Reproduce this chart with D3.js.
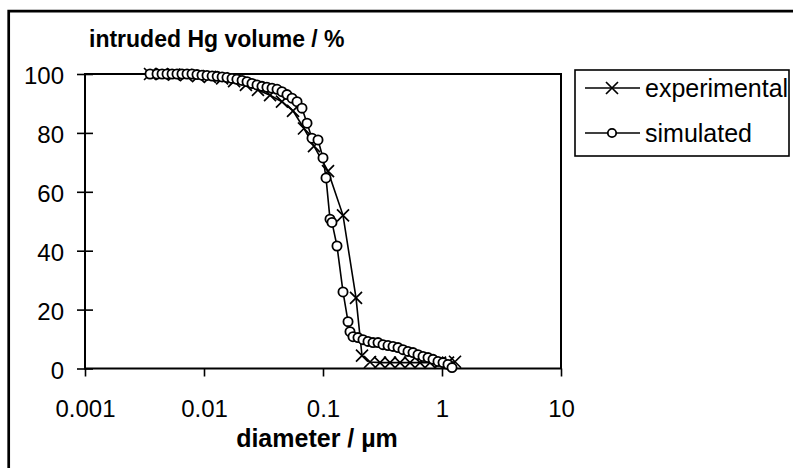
<!DOCTYPE html>
<html>
<head>
<meta charset="utf-8">
<script src="https://cdn.jsdelivr.net/npm/d3@7"></script>
<style>
  html, body { margin: 0; padding: 0; background: #fff; }
  text { font-family: "Liberation Sans", Arial, sans-serif; fill: #000; }
</style>
</head>
<body>
<svg id="chart" width="793" height="468"></svg>
<script>
// ---- data (diameter in µm, intruded Hg volume in %) ----
const expDiameter = [0.00352, 0.00444, 0.00560, 0.00706, 0.00891, 0.0112, 0.0142, 0.0179, 0.0225, 0.0284,
  0.0359, 0.0452, 0.0560, 0.0692, 0.0840, 0.1102, 0.1473, 0.1894, 0.2127, 0.2483,
  0.3013, 0.3656, 0.4437, 0.5384, 0.6535, 0.7930, 0.9620, 1.123, 1.286];
const expVolume = [100, 100, 99.8, 99.6, 99.3, 99.0, 98.5, 97.6, 96.3, 94.6,
  92.8, 90.6, 87.5, 81.5, 75.5, 67.0, 52.0, 24.0, 4.4, 2.2,
  2.0, 2.0, 2.0, 2.0, 2.0, 2.0, 2.0, 2.0, 2.3];

const simDiameter = [0.00352, 0.00403, 0.00444, 0.00489, 0.00539, 0.00593, 0.00653, 0.00720, 0.00793, 0.00873,
  0.00962, 0.0106, 0.0117, 0.0129, 0.0142, 0.0156, 0.0172, 0.0189, 0.0209, 0.0230,
  0.0253, 0.0279, 0.0307, 0.0338, 0.0373, 0.0411, 0.0452, 0.0498, 0.0549, 0.0605,
  0.0666, 0.0734, 0.0808, 0.0908, 0.100, 0.1060, 0.1145, 0.1190, 0.1311, 0.1473,
  0.1623, 0.1686, 0.1787, 0.1968, 0.2168, 0.2389, 0.2632, 0.2899, 0.3193, 0.3518,
  0.3874, 0.4269, 0.4702, 0.5180, 0.5706, 0.6287, 0.6925, 0.7630, 0.8403, 0.9256,
  1.020, 1.123, 1.214];
const simVolume = [100, 100, 100, 100, 100, 100, 100, 100, 100, 99.8,
  99.6, 99.5, 99.3, 99.2, 99.0, 98.8, 98.5, 98.2, 97.8, 97.4,
  96.8, 96.3, 95.8, 95.5, 95.2, 94.8, 94.0, 93.0, 91.8, 90.6,
  88.4, 83.3, 78.2, 77.6, 71.5, 64.7, 50.7, 49.6, 41.6, 26.0,
  15.9, 12.5, 10.8, 10.5, 9.8, 9.2, 8.8, 8.8, 8.1, 7.8,
  7.5, 7.1, 6.4, 5.8, 5.4, 4.7, 4.1, 3.7, 3.1, 2.4,
  2.0, 1.4, 0.3];

const xTicks = [0.001, 0.01, 0.1, 1, 10];
const xTickLabels = ["0.001", "0.01", "0.1", "1", "10"];
const yTicks = [0, 20, 40, 60, 80, 100];
const seriesNames = ["experimental", "simulated"];
const yTitle = "intruded Hg volume / %";
const xTitle = "diameter / µm";

// ---- layout ----
const svg = d3.select("#chart");
const L = 85, R = 561, T = 74, B = 368.5;

const x = d3.scaleLog().domain([0.001, 10]).range([L, R]);
const y = d3.scaleLinear().domain([0, 100]).range([B, T]);

// outer frame (clipped by page edges)
svg.append("path")
  .attr("d", `M8.7,470 L8.7,11.2 L800,11.2`)
  .attr("fill", "none").attr("stroke", "#000").attr("stroke-width", 2.7);

// plot border
svg.append("rect")
  .attr("x", L).attr("y", T).attr("width", R - L).attr("height", B - T)
  .attr("fill", "none").attr("stroke", "#000").attr("stroke-width", 2);

// y axis (ticks crossing)
const yAxis = svg.append("g").attr("transform", `translate(${L},0)`)
  .call(d3.axisLeft(y).tickValues(yTicks).tickSize(8).tickPadding(13).tickFormat(d3.format("d")));
yAxis.select(".domain").remove();
yAxis.selectAll(".tick line").attr("x2", 8).attr("x1", -8).attr("stroke-width", 1.6);
yAxis.selectAll(".tick text").attr("font-size", 24).attr("font-family", "Liberation Sans, Arial, sans-serif").attr("dy", "0.4em");

// x axis
const xAxis = svg.append("g").attr("transform", `translate(0,${B})`)
  .call(d3.axisBottom(x).tickValues(xTicks).tickSize(8).tickPadding(23)
    .tickFormat((d, i) => xTickLabels[i]));
xAxis.select(".domain").remove();
xAxis.selectAll(".tick line").attr("stroke-width", 1.6);
xAxis.selectAll(".tick text").attr("font-size", 24).attr("font-family", "Liberation Sans, Arial, sans-serif");

// titles
svg.append("text").attr("x", 89).attr("y", 47)
  .attr("font-size", 23).attr("font-weight", "bold").text(yTitle);
svg.append("text").attr("x", 317).attr("y", 447).attr("text-anchor", "middle")
  .attr("font-size", 25).attr("font-weight", "bold").text(xTitle);

// series
const expData = expDiameter.map((d, i) => [d, expVolume[i]]);
const simData = simDiameter.map((d, i) => [d, simVolume[i]]);
const line = d3.line().x(d => x(d[0])).y(d => y(d[1]));

const crossPath = s => `M${-s},${-s}L${s},${s}M${-s},${s}L${s},${-s}`;

svg.append("path").datum(expData).attr("d", line)
  .attr("fill", "none").attr("stroke", "#000").attr("stroke-width", 1.6);
svg.append("g").selectAll("path").data(expData).join("path")
  .attr("transform", d => `translate(${x(d[0])},${y(d[1])})`)
  .attr("d", crossPath(6)).attr("stroke", "#000").attr("stroke-width", 1.7).attr("fill", "none");

svg.append("path").datum(simData).attr("d", line)
  .attr("fill", "none").attr("stroke", "#000").attr("stroke-width", 1.6);
svg.append("g").selectAll("circle").data(simData).join("circle")
  .attr("cx", d => x(d[0])).attr("cy", d => y(d[1])).attr("r", 4.6)
  .attr("fill", "#fff").attr("stroke", "#000").attr("stroke-width", 1.8);

// legend
const lg = svg.append("g");
lg.append("rect").attr("x", 575).attr("y", 70).attr("width", 214).attr("height", 86)
  .attr("fill", "#fff").attr("stroke", "#000").attr("stroke-width", 1.6);
const rows = [88, 133];
seriesNames.forEach((name, i) => {
  const yy = rows[i];
  lg.append("line").attr("x1", 585).attr("x2", 640).attr("y1", yy).attr("y2", yy)
    .attr("stroke", "#000").attr("stroke-width", 1.6);
  if (i === 0) {
    lg.append("path").attr("transform", `translate(612,${yy})`).attr("d", crossPath(6))
      .attr("stroke", "#000").attr("stroke-width", 1.7);
  } else {
    lg.append("circle").attr("cx", 612).attr("cy", yy).attr("r", 4.2)
      .attr("fill", "#fff").attr("stroke", "#000").attr("stroke-width", 1.8);
  }
  lg.append("text").attr("x", 645).attr("y", yy + 9).attr("font-size", 25).text(name);
});
</script>
</body>
</html>
